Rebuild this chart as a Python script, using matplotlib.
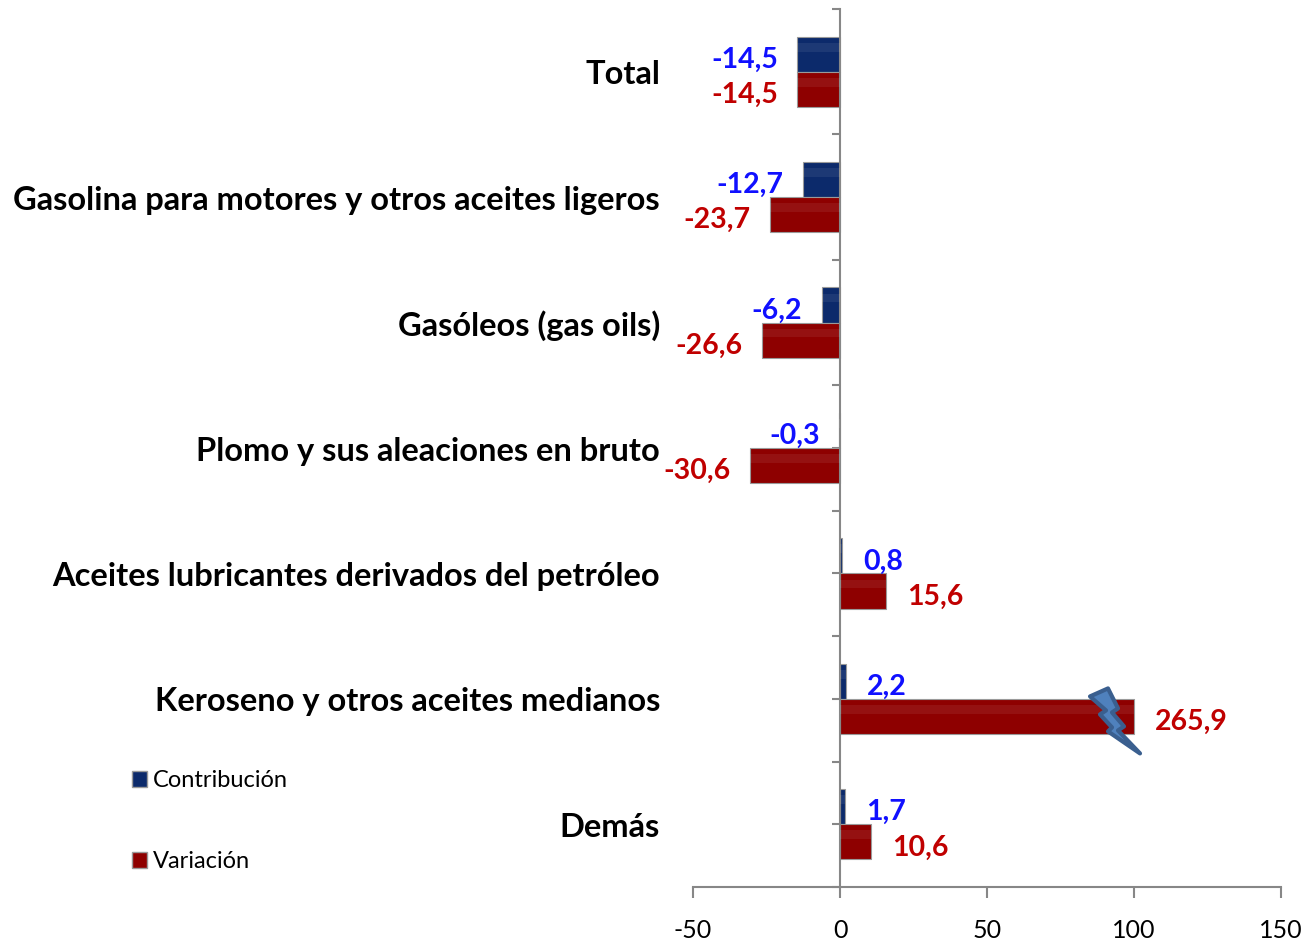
import matplotlib
matplotlib.use("Agg")
import matplotlib.pyplot as plt
import numpy as np
from matplotlib.patches import Polygon, Patch
from matplotlib.transforms import blended_transform_factory

categories = ["Total", "Gasolina para motores y otros aceites ligeros",
              "Gasóleos (gas oils)", "Plomo y sus aleaciones en bruto",
              "Aceites lubricantes derivados del petróleo",
              "Keroseno y otros aceites medianos", "Demás"]
contribucion = [-14.5, -12.7, -6.2, -0.3, 0.8, 2.2, 1.7]
variacion = [-14.5, -23.7, -26.6, -30.6, 15.6, 265.9, 10.6]
xticks = [-50, 0, 50, 100, 150]
axis_break = 100

def fmt(v):
    return f"{v:.1f}".replace(".", ",")

FONT = "Lato"
navy = "#0c2a6b"
red = "#8e0000"
blue_txt = "#1010ff"
red_txt = "#c00000"
grey = "#878787"

fig = plt.figure(figsize=(13.1, 9.43), dpi=100)
ax = fig.add_axes([693/1310, 1-887/943, (1281-693)/1310, (887-9)/943])

y = np.arange(len(categories))
h = 0.28
var_draw = np.minimum(variacion, axis_break)

bc = ax.barh(y - h/2, contribucion, height=h, color=navy, edgecolor="#9a9a9a", linewidth=0.8, zorder=2)
bv = ax.barh(y + h/2, var_draw, height=h, color=red, edgecolor="#9a9a9a", linewidth=0.8, zorder=2)

# glossy highlight
for bars in (bc, bv):
    for b in bars:
        x0, w = b.get_x(), b.get_width()
        yb, hb = b.get_y(), b.get_height()
        ax.barh(yb + hb*0.3, w, height=hb*0.25, left=x0, color="white", alpha=0.07,
                linewidth=0, zorder=3)

# value labels
for yi, v in zip(y - h/2, contribucion):
    ax.annotate(fmt(v), (v, yi), xytext=(-14 if v < 0 else 15, -4), textcoords="offset points",
                ha="right" if v < 0 else "left", va="center", color=blue_txt,
                fontsize=20.5, fontweight="bold", family=FONT)
for yi, v, vd in zip(y + h/2, variacion, var_draw):
    ax.annotate(fmt(v), (vd, yi), xytext=(-14 if v < 0 else 15, -4), textcoords="offset points",
                ha="right" if v < 0 else "left", va="center", color=red_txt,
                fontsize=20.5, fontweight="bold", family=FONT)

# break marker (lightning) on the clipped bar
ppx = (1281-693)/200.0   # px per unit x
ppy = (887-9)/7.0        # px per unit y
bolt_px = [(-44, -20), (-26, -28), (-16, -8), (-22, -4), (-10, 10), (-16, 14), (6, 37),
           (-26, 15), (-22, 11), (-34, -2), (-28, -6)]
for yi, v, vd in zip(y + h/2, variacion, var_draw):
    if v > axis_break:
        pts = [(vd + dx/ppx, yi + dy/ppy) for dx, dy in bolt_px]
        ax.add_patch(Polygon(pts, closed=True, facecolor="#4f81bd", edgecolor="#3a5f8f",
                             linewidth=3, joinstyle="round", zorder=4))

ax.set_xlim(-50, 150)
ax.set_ylim(len(categories) - 0.5, -0.5)
ax.set_xticks(xticks)
ax.set_xticklabels([str(t) for t in xticks], fontsize=18, family=FONT)
ax.tick_params(axis="x", length=8, width=1.5, color=grey, pad=15)

ax.spines["top"].set_visible(False)
ax.spines["right"].set_visible(False)
ax.spines["left"].set_position(("data", 0))
ax.spines["left"].set_color(grey)
ax.spines["left"].set_linewidth(1.5)
ax.spines["bottom"].set_color(grey)
ax.spines["bottom"].set_linewidth(1.5)
ax.set_yticks(np.arange(len(categories) + 1) - 0.5)
ax.set_yticks(y, minor=True)
ax.tick_params(axis="y", which="both", length=6, width=1.5, color=grey, labelleft=False, direction="out")

trans = blended_transform_factory(ax.transAxes, ax.transData)
for yi, c in zip(y, categories):
    ax.text(-0.056, yi + 0.025, c, transform=trans, ha="right", va="center",
            fontsize=23.5, fontweight="bold", family=FONT, color="black")

handles = [Patch(facecolor=navy, edgecolor="#9a9a9a", label="Contribución"),
           Patch(facecolor=red, edgecolor="#9a9a9a", label="Variación")]
leg = fig.legend(handles=handles, loc="upper left", bbox_to_anchor=(132/1310, 1-770/943),
                 frameon=False, prop={"family": FONT, "size": 17},
                 handlelength=0.65, handleheight=0.65, handletextpad=0.25, labelspacing=2.55,
                 borderpad=0, borderaxespad=0)

fig.savefig("out.png", dpi=100)
